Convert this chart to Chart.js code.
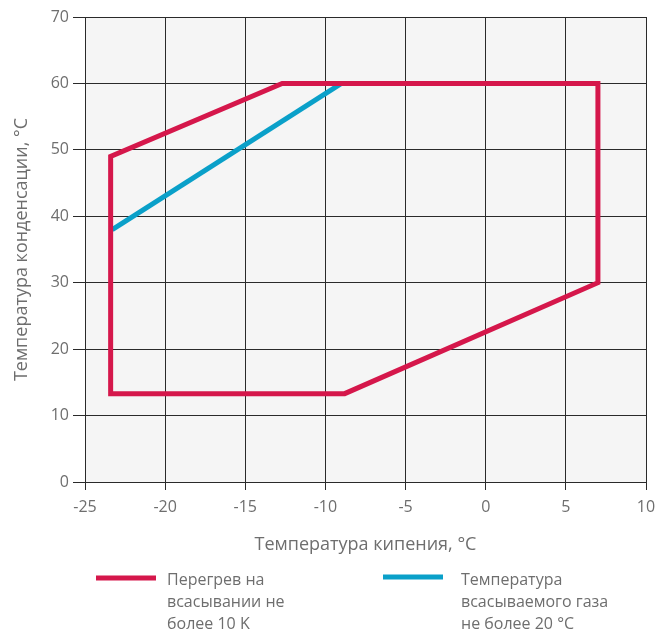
<!DOCTYPE html>
<html>
<head>
<meta charset="utf-8">
<script src="https://cdn.jsdelivr.net/npm/chart.js@4/dist/chart.umd.min.js"></script>
<style>
html,body{margin:0;padding:0;background:#fff;}
#wrap{width:672px;height:633px;position:relative;}
</style>
</head>
<body>
<div id="wrap"><canvas id="c" width="672" height="633"></canvas></div>
<script>
// Data
const redX = [-23.4, -12.7, 7, 7, -8.8, -23.4, -23.4, -12.7];
const redY = [49, 60, 60, 30, 13.3, 13.3, 49, 60];
const blueX = [-23.3, -9.0];
const blueY = [38, 60];
const redLabel = ['Перегрев на', 'всасывании не', 'более 10 K'];
const blueLabel = ['Температура', 'всасываемого газа', 'не более 20 °C'];
const xTitle = 'Температура кипения, °C';
const yTitle = 'Температура конденсации, °C';
const xMin = -25, xMax = 10, xStep = 5;
const yMin = 0, yMax = 70, yStep = 10;

const RED = '#d5174b';
const BLUE = '#0aa0c9';
const TXT = '#6e6e6e';
const FONT = "'Open Sans', 'DejaVu Sans', sans-serif";

const toPts = (xs, ys) => xs.map((x, i) => ({x: x, y: ys[i]}));

const bgPlugin = {
  id: 'bg',
  beforeDraw(chart) {
    const {ctx, chartArea: a} = chart;
    ctx.save();
    ctx.fillStyle = '#f5f5f5';
    ctx.fillRect(a.left, a.top, a.right - a.left, a.bottom - a.top);
    ctx.restore();
  }
};

const legendPlugin = {
  id: 'customLegend',
  afterDraw(chart) {
    const ctx = chart.ctx;
    ctx.save();
    ctx.font = '16px ' + FONT;
    ctx.textBaseline = 'middle';
    ctx.textAlign = 'left';
    const items = [
      {color: RED, lines: redLabel, sx: 96, tx: 167, sy: 578},
      {color: BLUE, lines: blueLabel, sx: 383, tx: 461, sy: 577}
    ];
    items.forEach(it => {
      ctx.fillStyle = it.color;
      ctx.fillRect(it.sx, it.sy - 2.5, 60, 5);
      ctx.fillStyle = TXT;
      it.lines.forEach((l, i) => ctx.fillText(l, it.tx, 580 + i * 22));
    });
    ctx.restore();
  }
};

new Chart(document.getElementById('c'), {
  type: 'scatter',
  data: {
    datasets: [
      {
        label: redLabel.join(' '),
        data: toPts(redX, redY),
        showLine: true,
        borderColor: RED,
        backgroundColor: RED,
        borderWidth: 5,
        borderJoinStyle: 'miter',
        pointRadius: 0,
        tension: 0,
        order: 1
      },
      {
        label: blueLabel.join(' '),
        data: toPts(blueX, blueY),
        showLine: true,
        borderColor: BLUE,
        backgroundColor: BLUE,
        borderWidth: 5,
        pointRadius: 0,
        tension: 0,
        order: 2
      }
    ]
  },
  options: {
    responsive: false,
    animation: false,
    devicePixelRatio: 1,
    layout: {padding: {left: 0, right: 26, top: 17, bottom: 73}},
    plugins: {
      legend: {display: false},
      tooltip: {enabled: false}
    },
    scales: {
      x: {
        type: 'linear',
        min: xMin, max: xMax,
        ticks: {stepSize: xStep, color: TXT, font: {family: FONT, size: 16}, padding: 8},
        grid: {color: '#2a2a2a', lineWidth: 1, tickLength: 8, drawTicks: true},
        border: {color: '#2a2a2a', width: 1},
        title: {display: true, text: xTitle, color: TXT, font: {family: FONT, size: 18}, padding: {top: 4, bottom: 4}},
        afterFit(scale) { scale.height = 78; }
      },
      y: {
        type: 'linear',
        min: yMin, max: yMax,
        ticks: {stepSize: yStep, color: TXT, font: {family: FONT, size: 16}, padding: 4},
        grid: {color: '#2a2a2a', lineWidth: 1, tickLength: 12, drawTicks: true},
        border: {color: '#2a2a2a', width: 1},
        title: {display: true, text: yTitle, color: TXT, font: {family: FONT, size: 18}, padding: {top: 11, bottom: 0}},
        afterFit(scale) { scale.width = 85; }
      }
    }
  },
  plugins: [bgPlugin, legendPlugin]
});
</script>
</body>
</html>
